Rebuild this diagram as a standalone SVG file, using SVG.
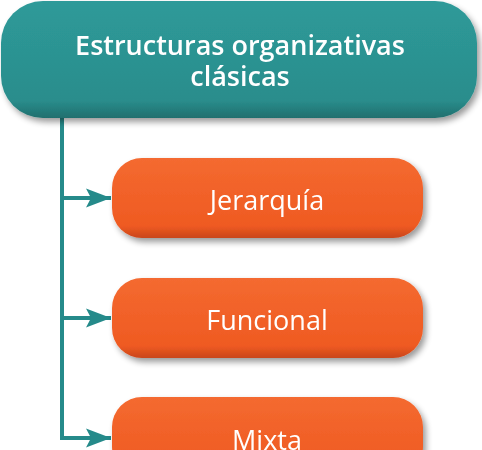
<svg xmlns="http://www.w3.org/2000/svg" width="482" height="450" viewBox="0 0 482 450">
<style>
.title{font-family:"Open Sans","Liberation Sans",sans-serif;font-weight:600;font-size:27px;fill:#fff;text-anchor:middle}
.lbl{font-family:"Open Sans","Liberation Sans",sans-serif;font-size:27px;fill:#fff;text-anchor:middle}
.conn{stroke:#258a8a;stroke-width:4;fill:none}
</style>
<defs>
<filter id="sh" x="-10%" y="-20%" width="125%" height="150%">
<feGaussianBlur in="SourceAlpha" stdDeviation="3"/>
<feOffset dx="3" dy="4" result="b"/>
<feComponentTransfer><feFuncA type="linear" slope="0.4"/></feComponentTransfer>
<feMerge><feMergeNode/><feMergeNode in="SourceGraphic"/></feMerge>
</filter>
<linearGradient id="tg" x1="0" y1="0" x2="0" y2="1">
<stop offset="0" stop-color="#2e9a99"/>
<stop offset="0.85" stop-color="#2a8d8c"/>
<stop offset="1" stop-color="#1f6f6e"/>
</linearGradient>
<linearGradient id="og" x1="0" y1="0" x2="0" y2="1">
<stop offset="0" stop-color="#f46a30"/>
<stop offset="0.85" stop-color="#ef5a22"/>
<stop offset="1" stop-color="#c9461a"/>
</linearGradient>
<marker id="ah" markerWidth="26" markerHeight="20" refX="25" refY="10" orient="auto" markerUnits="userSpaceOnUse">
<path d="M0,0.5 L25,10 L0,19.5 L5,10 Z" fill="#258a8a"/>
</marker>
</defs>
<g id="connectors">
<path class="conn" d="M62,118 V438 H111" marker-end="url(#ah)"/>
<path class="conn" d="M62,198 H111" marker-end="url(#ah)"/>
<path class="conn" d="M62,318 H111" marker-end="url(#ah)"/>
</g>
<g id="root" filter="url(#sh)">
<rect x="1" y="1" width="476" height="117" rx="42" fill="url(#tg)"/>
<text class="title" x="240" y="55">Estructuras organizativas</text>
<text class="title" x="240" y="86">clásicas</text>
</g>
<g id="n1" filter="url(#sh)">
<rect x="112" y="158" width="311" height="80" rx="30" fill="url(#og)"/>
<text class="lbl" x="267" y="210">Jerarquía</text>
</g>
<g id="n2" filter="url(#sh)">
<rect x="112" y="278" width="311" height="80" rx="30" fill="url(#og)"/>
<text class="lbl" x="267" y="330">Funcional</text>
</g>
<g id="n3" filter="url(#sh)">
<rect x="112" y="397" width="311" height="80" rx="30" fill="url(#og)"/>
<text class="lbl" x="267" y="450">Mixta</text>
</g>
</svg>
